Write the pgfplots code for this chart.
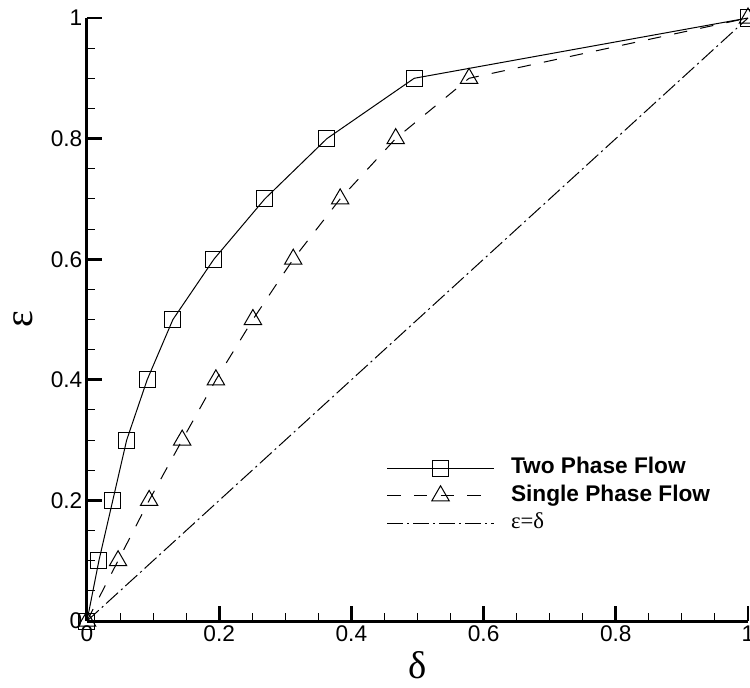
\documentclass[border=0pt]{standalone}
\usepackage{fontspec}
\setmainfont{Liberation Sans}
\newfontfamily\serif{Liberation Serif}
\usepackage{pgfplots}
\pgfplotsset{compat=1.18}
\begin{document}
\begin{tikzpicture}
\begin{axis}[
  scale only axis,
  width=495.75pt, height=452.25pt,
  xmin=0, xmax=1, ymin=0, ymax=1,
  clip=false,
  axis x line=bottom, axis y line=left,
  axis line style={-, line width=2.25pt},
  xtick={0,0.2,...,1}, ytick={0,0.2,...,1},
  minor tick num=3,
  tick align=inside,
  major tick length=11pt, minor tick length=6pt,
  major tick style={line width=2pt, black},
  minor tick style={line width=0.75pt, black},
  tick label style={font=\fontsize{17}{20}\selectfont},
  /pgf/number format/assume math mode=true,
  xlabel={\serif\fontsize{29}{32}\selectfont δ},
  ylabel={\serif\fontsize{30}{34}\selectfont ε},
  xlabel style={at={(axis description cs:0.5,-0.073)}, anchor=center, inner sep=0pt},
  ylabel style={at={(axis description cs:-0.096,0.5)}, anchor=center, rotate=0},
  legend cell align=left,
  legend style={draw=none, fill=none, inner sep=0pt,
    at={(axis description cs:0.453,0.2736)}, anchor=north west,
    row sep=2.6pt, column sep=11.5pt,
    nodes={inner sep=1pt, text height=12pt, text depth=4pt},
    font=\fontsize{17}{20}\selectfont},
  legend image code/.code={
    \draw[mark repeat=2, mark phase=2] plot coordinates {(0pt,0pt) (40pt,0pt) (80pt,0pt)};
  },
]
\addplot[black, line width=0.75pt, mark=square, mark size=6pt, mark options={solid, fill=none}]
  coordinates {(0,0) (0.018,0.1) (0.039,0.2) (0.060,0.3) (0.091,0.4) (0.130,0.5) (0.192,0.6) (0.269,0.7) (0.363,0.8) (0.495,0.9) (1,1)};
\addlegendentry{\textbf{Two Phase Flow}}
\addplot[black, line width=0.75pt, dash pattern=on 10pt off 10pt, mark=triangle, mark size=7.5pt, mark options={solid, fill=none}]
  coordinates {(0,0) (0.047,0.1) (0.094,0.2) (0.144,0.3) (0.195,0.4) (0.251,0.5) (0.312,0.6) (0.383,0.7) (0.467,0.8) (0.578,0.9) (1,1)};
\addlegendentry{\textbf{Single Phase Flow}}
\addplot[black, line width=0.75pt, dash pattern=on 12pt off 3pt on 1.5pt off 3pt, mark=none]
  coordinates {(0,0) (1,1)};
\addlegendentry{{\serif ε=δ}}
\end{axis}
\pgfresetboundingbox
\path[use as bounding box] (-65.25pt,-49.5pt) rectangle (497.25pt,465.75pt);
\end{tikzpicture}
\end{document}
